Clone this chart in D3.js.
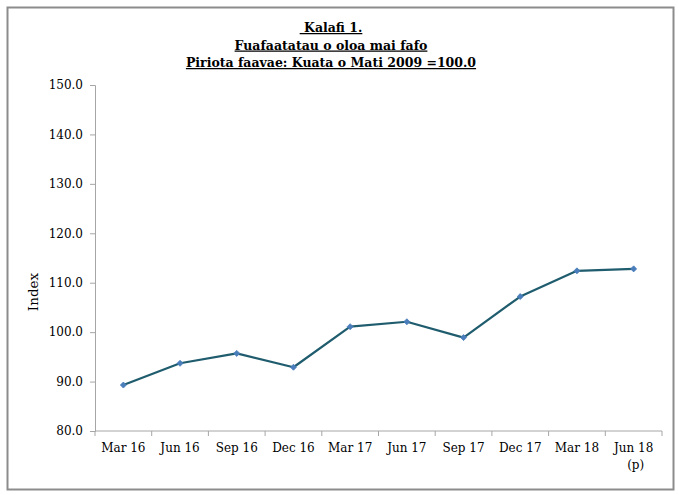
<!DOCTYPE html>
<html>
<head>
<meta charset="utf-8">
<script src="https://cdn.jsdelivr.net/npm/d3@7"></script>
<style>
  html, body { margin: 0; padding: 0; background: #fff; }
  svg { display: block; }
  text { font-family: "DejaVu Serif", "Liberation Serif", serif; fill: #000; }
</style>
</head>
<body>
<script>
// Quarterly import price index (base: March quarter 2009 = 100.0)
const quarters = ["Mar 16", "Jun 16", "Sep 16", "Dec 16", "Mar 17", "Jun 17", "Sep 17", "Dec 17", "Mar 18", "Jun 18"];
const quarterNotes = ["", "", "", "", "", "", "", "", "", "(p)"];
const indexValues = [89.3, 93.7, 95.7, 92.9, 101.1, 102.1, 98.9, 107.2, 112.4, 112.8];
const yTicks = [80, 90, 100, 110, 120, 130, 140, 150];
const titleLines = [" Kalafi 1.", "Fuafaatatau o oloa mai fafo", "Piriota faavae: Kuata o Mati 2009 =100.0"];

const W = 679, H = 495;
const plot = { left: 95, right: 662, top: 85, bottom: 431 };

const svg = d3.select("body").append("svg").attr("width", W).attr("height", H);

// Chart frame
svg.append("rect")
  .attr("x", 7.5).attr("y", 7.5).attr("width", 666).attr("height", 482)
  .attr("fill", "#fff").attr("stroke", "#8c8c8c").attr("stroke-width", 2);

// Title
const title = svg.append("text")
  .attr("text-anchor", "middle")
  .attr("font-weight", "bold")
  .attr("font-size", 12.5)
  .attr("text-decoration", "underline")
  .style("white-space", "pre");
titleLines.forEach((t, i) => {
  title.append("tspan").attr("x", 331).attr("y", 32 + i * 17.5).text(t);
});

const x = d3.scaleBand().domain(quarters).range([plot.left, plot.right]).padding(0);
const y = d3.scaleLinear().domain([80, 150]).range([plot.bottom, plot.top]);

// Y axis
const yAxis = svg.append("g")
  .attr("transform", `translate(${plot.left},0)`)
  .call(d3.axisLeft(y).tickValues(yTicks).tickFormat(d3.format(".1f")).tickSize(5).tickPadding(7));
yAxis.select(".domain").attr("stroke", "#a6a6a6");
yAxis.selectAll(".tick line").attr("stroke", "#a6a6a6");
yAxis.selectAll("text").attr("font-size", 12).attr("font-family", "DejaVu Serif, serif");

// X axis with ticks on category boundaries
const xAxisG = svg.append("g").attr("transform", `translate(0,${plot.bottom})`);
xAxisG.append("line")
  .attr("x1", plot.left).attr("x2", plot.right)
  .attr("stroke", "#a6a6a6");
const boundaries = quarters.map(q => x(q)).concat([x(quarters[quarters.length - 1]) + x.bandwidth()]);
xAxisG.selectAll("line.tick").data(boundaries).join("line")
  .attr("class", "tick")
  .attr("x1", d => d).attr("x2", d => d)
  .attr("y1", 0).attr("y2", 5)
  .attr("stroke", "#a6a6a6");
const xLabels = xAxisG.selectAll("text.lbl").data(quarters).join("text")
  .attr("class", "lbl")
  .attr("text-anchor", "middle")
  .attr("font-size", 12)
  .attr("x", d => x(d) + x.bandwidth() / 2)
  .attr("y", 21);
xLabels.append("tspan").attr("x", d => x(d) + x.bandwidth() / 2).text(d => d);
xLabels.append("tspan")
  .attr("x", d => x(d) + x.bandwidth() / 2 + 2)
  .attr("dy", 17)
  .text((d, i) => quarterNotes[i]);

// Axis title
svg.append("text")
  .attr("transform", `translate(38,${(plot.top + plot.bottom) / 2 + 34}) rotate(-90)`)
  .attr("text-anchor", "middle")
  .attr("font-size", 13.5)
  .text("Index");

// Series line
const data = quarters.map((q, i) => ({ q, v: indexValues[i] }));
const line = d3.line()
  .x(d => x(d.q) + x.bandwidth() / 2)
  .y(d => y(d.v));
svg.append("path")
  .datum(data)
  .attr("fill", "none")
  .attr("stroke", "#1f5c6e")
  .attr("stroke-width", 2.2)
  .attr("stroke-linejoin", "round")
  .attr("d", line);

// Diamond markers (rotated squares)
svg.selectAll("path.marker").data(data).join("path")
  .attr("class", "marker")
  .attr("d", d3.symbol().type(d3.symbolSquare).size(18))
  .attr("transform", d => `translate(${x(d.q) + x.bandwidth() / 2},${y(d.v)}) rotate(45)`)
  .attr("fill", "#4a7ebb")
  .attr("stroke", "#4a7ebb")
  .attr("stroke-width", 0.8);
</script>
</body>
</html>
